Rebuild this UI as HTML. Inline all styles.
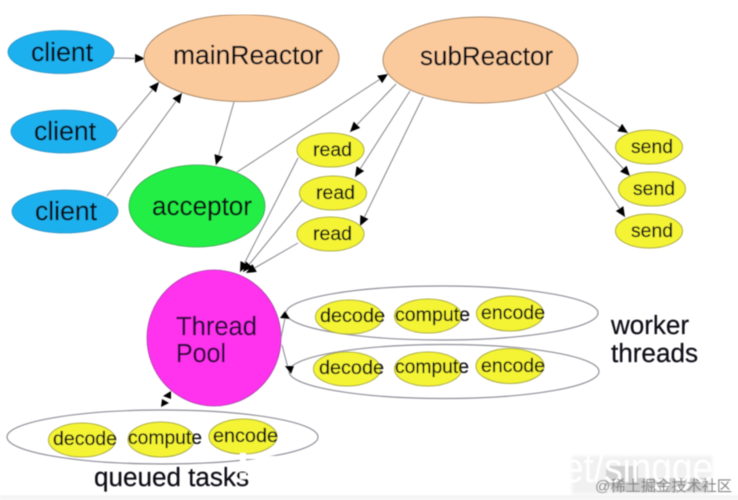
<!DOCTYPE html>
<html>
<head>
<meta charset="utf-8">
<style>
html,body{margin:0;padding:0;background:#fff;width:738px;height:500px;overflow:hidden}
svg{display:block}
.d{filter:url(#b)}
text{font-family:"Liberation Sans","Noto Sans CJK SC",sans-serif;fill:#101018}
.t text{stroke:#101018;stroke-width:.25}
.l{stroke:#85858d;stroke-width:1;fill:none;marker-end:url(#a)}
.n{stroke:#85858d;stroke-width:1;fill:none}
.g{fill:none;stroke:#90909a;stroke-width:1.2}
.y{fill:#f4f436;stroke:#aaaa40;stroke-width:1}
.c{fill:#1ab0ee;stroke:#2a8fc0;stroke-width:.8}
.o{fill:#fbca9c;stroke:#a88868;stroke-width:1}
.s{font-size:19.6px}
.b{font-size:26.2px}
</style>
</head>
<body>
<svg width="738" height="500" viewBox="0 0 738 500" xmlns="http://www.w3.org/2000/svg">
<defs>
<filter id="b" x="0" y="0" width="100%" height="100%"><feGaussianBlur stdDeviation="0.4"/></filter>
<filter id="w" x="-5%" y="-20%" width="110%" height="140%"><feGaussianBlur stdDeviation="1.5"/></filter>
<marker id="a" markerUnits="userSpaceOnUse" markerWidth="12" markerHeight="10" refX="10" refY="4.5" orient="auto">
<path d="M0 0L10 4.5L0 9Z" fill="#000"/>
</marker>
</defs>
<g class="d">
<line class="l" x1="111" y1="58" x2="145" y2="58.5"/>
<line class="l" x1="117" y1="132" x2="159" y2="82"/>
<line class="l" x1="107" y1="196" x2="182" y2="93"/>
<line class="l" x1="234" y1="102" x2="216" y2="165"/>
<line class="l" x1="237" y1="172" x2="388" y2="74"/>
<line class="l" x1="396" y1="84" x2="350" y2="132"/>
<line class="l" x1="410" y1="91" x2="355" y2="177"/>
<line class="l" x1="423" y1="97" x2="360" y2="226"/>
<line class="l" x1="558" y1="87" x2="628" y2="133"/>
<line class="l" x1="552" y1="90" x2="630" y2="176"/>
<line class="l" x1="545" y1="93" x2="625" y2="217"/>
<line class="l" x1="298" y1="158" x2="240" y2="272"/>
<line class="l" x1="302" y1="200" x2="243" y2="272"/>
<line class="l" x1="298" y1="243" x2="246" y2="273"/>

<ellipse class="c" cx="61" cy="52" rx="53" ry="21.5"/>
<ellipse class="c" cx="64" cy="131.5" rx="53" ry="21.5"/>
<ellipse class="c" cx="65" cy="211.5" rx="53" ry="21.5"/>
<ellipse class="o" cx="241.5" cy="58" rx="97.5" ry="43.5"/>
<ellipse class="o" cx="480.5" cy="60" rx="97.5" ry="43"/>
<ellipse cx="197" cy="206" rx="68" ry="41" fill="#22ee44" stroke="#3a9a50" stroke-width=".8"/>
<ellipse cx="214" cy="338" rx="67" ry="68" fill="#ff33ee" stroke="#a040a0" stroke-width=".8"/>

<ellipse class="y" cx="330.5" cy="150" rx="33.5" ry="17"/>
<ellipse class="y" cx="333" cy="193" rx="33.5" ry="17"/>
<ellipse class="y" cx="330.5" cy="234" rx="33.5" ry="17"/>
<ellipse class="y" cx="649" cy="147" rx="33.5" ry="17"/>
<ellipse class="y" cx="652" cy="189" rx="33.5" ry="17"/>
<ellipse class="y" cx="649" cy="231" rx="33.5" ry="17"/>

<ellipse class="g" cx="442" cy="313" rx="156" ry="27"/>
<ellipse class="g" cx="444" cy="371.5" rx="155" ry="27"/>
<ellipse class="g" cx="162.5" cy="437" rx="155.5" ry="27"/>

<ellipse class="y" cx="349" cy="317" rx="33.5" ry="17"/>
<ellipse class="y" cx="428" cy="316" rx="33.5" ry="17"/>
<ellipse class="y" cx="510" cy="313.5" rx="33.5" ry="17.5"/>
<ellipse class="y" cx="347" cy="369" rx="33.5" ry="17"/>
<ellipse class="y" cx="428" cy="369" rx="33.5" ry="17"/>
<ellipse class="y" cx="510" cy="366" rx="34" ry="17.5"/>
<ellipse class="y" cx="82" cy="440" rx="33.5" ry="17"/>
<ellipse class="y" cx="161" cy="439.5" rx="33" ry="17.5"/>
<ellipse class="y" cx="243" cy="436.5" rx="34" ry="17.5"/>

<line class="n" x1="281" y1="338" x2="285" y2="318"/>
<path d="M285 311L290 319L280 318Z" fill="#000"/>
<line class="n" x1="282" y1="345" x2="288" y2="368"/>
<path d="M291 374L285 366L294 366Z" fill="#000"/>
<path d="M171 391L171 399L163 396Z" fill="#000"/>
<path d="M161 407L162 399L169 403Z" fill="#000"/>

<g class="t">
<text class="b" x="31" y="61" textLength="62" lengthAdjust="spacingAndGlyphs">client</text>
<text class="b" x="34" y="140" textLength="62" lengthAdjust="spacingAndGlyphs">client</text>
<text class="b" x="35" y="220" textLength="62" lengthAdjust="spacingAndGlyphs">client</text>
<text class="b" x="173" y="64" textLength="150" lengthAdjust="spacingAndGlyphs">mainReactor</text>
<text class="b" x="420" y="65" textLength="133" lengthAdjust="spacingAndGlyphs">subReactor</text>
<text class="b" x="152" y="215" textLength="100" lengthAdjust="spacingAndGlyphs">acceptor</text>
<text class="b" x="176" y="335" textLength="81" lengthAdjust="spacingAndGlyphs" style="fill:#2c0a3c;stroke:#2c0a3c">Thread</text>
<text class="b" x="176" y="362" textLength="50" lengthAdjust="spacingAndGlyphs" style="fill:#2c0a3c;stroke:#2c0a3c">Pool</text>
<text class="b" x="611" y="334" textLength="78" lengthAdjust="spacingAndGlyphs">worker</text>
<text class="b" x="611" y="362" textLength="87" lengthAdjust="spacingAndGlyphs">threads</text>
<text class="b" x="94" y="486" textLength="155" lengthAdjust="spacingAndGlyphs">queued tasks</text>

<text class="s" x="313" y="156" textLength="39" lengthAdjust="spacingAndGlyphs">read</text>
<text class="s" x="316" y="199" textLength="39" lengthAdjust="spacingAndGlyphs">read</text>
<text class="s" x="313" y="240" textLength="39" lengthAdjust="spacingAndGlyphs">read</text>
<text class="s" x="631" y="153" textLength="42" lengthAdjust="spacingAndGlyphs">send</text>
<text class="s" x="633" y="195" textLength="42" lengthAdjust="spacingAndGlyphs">send</text>
<text class="s" x="631" y="237" textLength="42" lengthAdjust="spacingAndGlyphs">send</text>

<text class="s" x="320" y="322" textLength="65" lengthAdjust="spacingAndGlyphs">decode</text>
<text class="s" x="395" y="321" textLength="75" lengthAdjust="spacingAndGlyphs">compute</text>
<text class="s" x="481" y="319" textLength="64" lengthAdjust="spacingAndGlyphs">encode</text>
<text class="s" x="319" y="374" textLength="65" lengthAdjust="spacingAndGlyphs">decode</text>
<text class="s" x="395" y="373" textLength="74" lengthAdjust="spacingAndGlyphs">compute</text>
<text class="s" x="481" y="372" textLength="64" lengthAdjust="spacingAndGlyphs">encode</text>
<text class="s" x="53" y="445" textLength="64" lengthAdjust="spacingAndGlyphs">decode</text>
<text class="s" x="128" y="444" textLength="74" lengthAdjust="spacingAndGlyphs">compute</text>
<text class="s" x="213" y="442" textLength="65" lengthAdjust="spacingAndGlyphs">encode</text>
</g>

<rect x="572" y="456" width="140" height="38" fill="#f1f1f1" filter="url(#w)"/>
<rect x="606" y="466" width="32" height="20" fill="#d2d2d2"/>
<rect x="612" y="478" width="96" height="14" fill="#cdcdcd"/>
<rect x="0" y="495" width="738" height="5" fill="#f5f5f5"/>
<rect x="240" y="453" width="6" height="14" fill="#fff"/>
<rect x="248" y="456" width="32" height="3" fill="#fff"/>
<rect x="240" y="473" width="6" height="6" fill="#fff"/>
<text x="563" y="482" style="font-size:42px;fill:#fff" textLength="150" lengthAdjust="spacingAndGlyphs">et/singge</text>
<text x="595" y="491" style="font-size:15px;fill:#868686" textLength="137" lengthAdjust="spacingAndGlyphs">@稀土掘金技术社区</text>
</g>
</svg>
</body>
</html>
